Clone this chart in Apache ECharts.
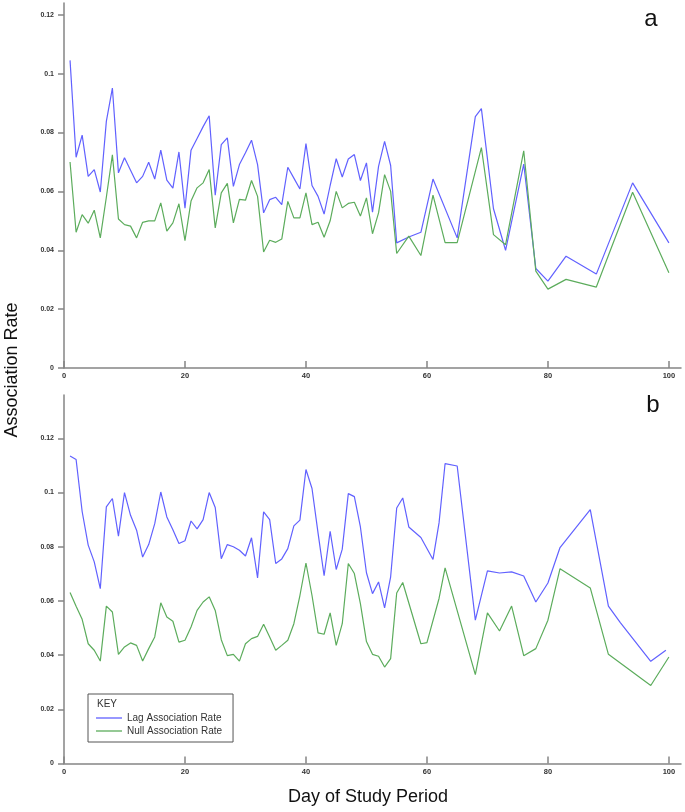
<!DOCTYPE html>
<html>
<head>
<meta charset="utf-8">
<style>
html,body{margin:0;padding:0;background:#fff;}
#chart{width:685px;height:812px;}
</style>
<script src="https://cdn.jsdelivr.net/npm/echarts@6/dist/echarts.min.js"></script>
</head>
<body>
<div id="chart"></div>
<script>
// ---- Data ----
const xTicks = [0, 20, 40, 60, 80, 100];
const yTicks = [0, 0.02, 0.04, 0.06, 0.08, 0.1, 0.12];

// Panel a
const lagDaysA = [1,2,3,4,5,6,7,8,9,10,11,12,13,14,15,16,17,18,19,20,21,22,23,24,25,26,27,28,29,30,31,32,33,34,35,36,37,38,39,40,41,42,43,44,45,46,47,48,49,50,51,52,53,54,55,57,59,61,65,68,69,71,73,76,78,80,83,88,94,100];
const lagA = [0.1045,0.0716,0.0791,0.0651,0.0674,0.0598,0.0838,0.0951,0.0663,0.0714,0.0672,0.0629,0.0651,0.0699,0.0642,0.0740,0.0638,0.0611,0.0734,0.0543,0.0740,0.0780,0.0820,0.0857,0.0587,0.0759,0.0782,0.0617,0.0691,0.0731,0.0774,0.0691,0.0527,0.0572,0.0580,0.0555,0.0682,0.0645,0.0608,0.0762,0.0620,0.0583,0.0523,0.0620,0.0711,0.0649,0.0710,0.0725,0.0637,0.0697,0.0529,0.0685,0.0770,0.0688,0.0425,0.0445,0.0461,0.0642,0.0442,0.0854,0.0881,0.0541,0.0400,0.0693,0.0338,0.0295,0.0380,0.0319,0.0629,0.0425];
const nullDaysA = [1,2,3,4,5,6,7,8,9,10,11,12,13,14,15,16,17,18,19,20,21,22,23,24,25,26,27,28,29,30,31,32,33,34,35,36,37,38,39,40,41,42,43,44,45,46,47,48,49,50,51,52,53,54,55,57,59,61,63,65,69,71,73,76,78,80,83,88,94,100];
const nullA = [0.0700,0.0461,0.0521,0.0492,0.0536,0.0442,0.0580,0.0724,0.0506,0.0487,0.0482,0.0442,0.0495,0.0500,0.0500,0.0561,0.0465,0.0493,0.0558,0.0433,0.0567,0.0612,0.0629,0.0674,0.0476,0.0595,0.0627,0.0493,0.0573,0.0570,0.0637,0.0583,0.0394,0.0434,0.0427,0.0438,0.0566,0.0510,0.0510,0.0595,0.0487,0.0495,0.0444,0.0500,0.0600,0.0544,0.0559,0.0563,0.0516,0.0578,0.0456,0.0527,0.0657,0.0600,0.0389,0.0448,0.0382,0.0587,0.0426,0.0426,0.0749,0.0453,0.0419,0.0738,0.0329,0.0268,0.0301,0.0275,0.0597,0.0324];

// Panel b
const lagDaysB = [1,2,3,4,5,6,7,8,9,10,11,12,13,14,15,16,17,18,19,20,21,22,23,24,25,26,27,28,29,30,31,32,33,34,35,36,37,38,39,40,41,42,43,44,45,46,47,48,49,50,51,52,53,54,55,56,57,59,61,62,63,65,68,70,72,74,76,78,80,82,87,90,92,97,99.5];
const lagB = [0.1135,0.1122,0.0930,0.0806,0.0744,0.0645,0.0947,0.0978,0.0839,0.1000,0.0916,0.0861,0.0762,0.0808,0.0885,0.1002,0.0910,0.0863,0.0812,0.0822,0.0895,0.0866,0.0900,0.1000,0.0945,0.0756,0.0808,0.0800,0.0787,0.0766,0.0833,0.0685,0.0929,0.0900,0.0738,0.0755,0.0793,0.0877,0.0898,0.1085,0.1015,0.0850,0.0693,0.0857,0.0716,0.0791,0.0996,0.0985,0.0873,0.0704,0.0627,0.0670,0.0574,0.0689,0.0943,0.0980,0.0873,0.0834,0.0753,0.0888,0.1107,0.1098,0.0529,0.0711,0.0703,0.0707,0.0692,0.0596,0.0666,0.0797,0.0937,0.0581,0.0519,0.0377,0.0418];
const nullDaysB = [1,2,3,4,5,6,7,8,9,10,11,12,13,14,15,16,17,18,19,20,21,22,23,24,25,26,27,28,29,30,31,32,33,34,35,36,37,38,39,40,41,42,43,44,45,46,47,48,49,50,51,52,53,54,55,56,59,60,62,63,68,70,72,74,76,78,80,82,87,90,97,100];
const nullB = [0.0631,0.0580,0.0532,0.0442,0.0418,0.0378,0.0581,0.0559,0.0403,0.0430,0.0445,0.0436,0.0378,0.0424,0.0467,0.0593,0.0541,0.0525,0.0448,0.0455,0.0504,0.0565,0.0596,0.0615,0.0565,0.0457,0.0398,0.0403,0.0378,0.0442,0.0461,0.0469,0.0514,0.0467,0.0418,0.0436,0.0455,0.0516,0.0620,0.0740,0.0620,0.0482,0.0477,0.0556,0.0436,0.0516,0.0738,0.0701,0.0590,0.0450,0.0403,0.0396,0.0356,0.0387,0.0629,0.0668,0.0442,0.0446,0.0609,0.0722,0.0328,0.0556,0.0489,0.0581,0.0398,0.0424,0.0529,0.0719,0.0648,0.0403,0.0288,0.0393];

const seriesNames = ['Lag Association Rate', 'Null Association Rate'];

// ---- Chart ----
const zip = (xs, ys) => xs.map((x, i) => [x, ys[i]]);
const FONT = 'Liberation Sans, Arial, sans-serif';
const axisColor = '#858585';
const blue = '#6161ff';
const green = '#5cac5c';

function xAxis(gi) {
  return {
    type: 'value', gridIndex: gi, min: 0, max: 102, interval: 20,
    axisLine: { show: true, onZero: false, lineStyle: { color: axisColor, width: 1.5 } },
    axisTick: { show: true, inside: true, length: 7, customValues: xTicks, lineStyle: { color: axisColor, width: 1.5 } },
    axisLabel: { customValues: xTicks, margin: 4, fontSize: 7.5, fontWeight: 'bold', color: '#333', fontFamily: FONT },
    splitLine: { show: false }
  };
}
function yAxis(gi, max) {
  return {
    type: 'value', gridIndex: gi, min: 0, max: max, interval: 0.02,
    axisLine: { show: true, lineStyle: { color: axisColor, width: 1.5 } },
    axisTick: { show: true, inside: false, length: 6, customValues: yTicks, lineStyle: { color: axisColor, width: 1.5 } },
    axisLabel: { customValues: yTicks, margin: 10, fontSize: 7, fontWeight: 'bold', color: '#333', fontFamily: FONT,
      formatter: v => String(+(+v).toFixed(2)) },
    splitLine: { show: false }
  };
}
function line(name, data, gi, color) {
  return {
    name: name, type: 'line', xAxisIndex: gi, yAxisIndex: gi, data: data,
    symbol: 'none', showSymbol: false, silent: true, animation: false,
    lineStyle: { color: color, width: 1.2 }, itemStyle: { color: color }
  };
}

const chart = echarts.init(document.getElementById('chart'), null, { renderer: 'canvas' });
chart.setOption({
  backgroundColor: '#fff',
  animation: false,
  textStyle: { fontFamily: FONT },
  grid: [
    { left: 64, top: 3, width: 617, height: 365 },
    { left: 64, top: 395, width: 617, height: 368.5 }
  ],
  xAxis: [xAxis(0), xAxis(1)],
  yAxis: [yAxis(0, 0.124), yAxis(1, 0.136)],
  legend: {
    data: seriesNames,
    orient: 'vertical', left: 88, top: 694,
    padding: [19, 11, 6, 8],
    icon: 'rect',
    itemWidth: 26, itemHeight: 1.3, itemGap: 3,
    borderColor: '#555', borderWidth: 1, backgroundColor: '#fff',
    selectedMode: false,
    textStyle: { fontSize: 10, lineHeight: 10, color: '#333', fontFamily: FONT }
  },
  series: [
    line(seriesNames[0], zip(lagDaysA, lagA), 0, blue),
    line(seriesNames[1], zip(nullDaysA, nullA), 0, green),
    line(seriesNames[0], zip(lagDaysB, lagB), 1, blue),
    line(seriesNames[1], zip(nullDaysB, nullB), 1, green)
  ],
  graphic: [
    { type: 'text', left: 97, top: 699, z: 100, style: { text: 'KEY', fontSize: 10, fill: '#333', fontFamily: FONT } },
    { type: 'text', x: 651, y: 19, style: { text: 'a', fontSize: 24, fill: '#111', fontFamily: FONT, textAlign: 'center', textVerticalAlign: 'middle' } },
    { type: 'text', x: 653, y: 405, style: { text: 'b', fontSize: 24, fill: '#111', fontFamily: FONT, textAlign: 'center', textVerticalAlign: 'middle' } },
    { type: 'text', x: 12, y: 370, rotation: Math.PI / 2, style: { text: 'Association Rate', fontSize: 18, fill: '#111', fontFamily: FONT, textAlign: 'center', textVerticalAlign: 'middle' } },
    { type: 'text', x: 368, y: 797, style: { text: 'Day of Study Period', fontSize: 18, fill: '#111', fontFamily: FONT, textAlign: 'center', textVerticalAlign: 'middle' } }
  ]
});
</script>
</body>
</html>
